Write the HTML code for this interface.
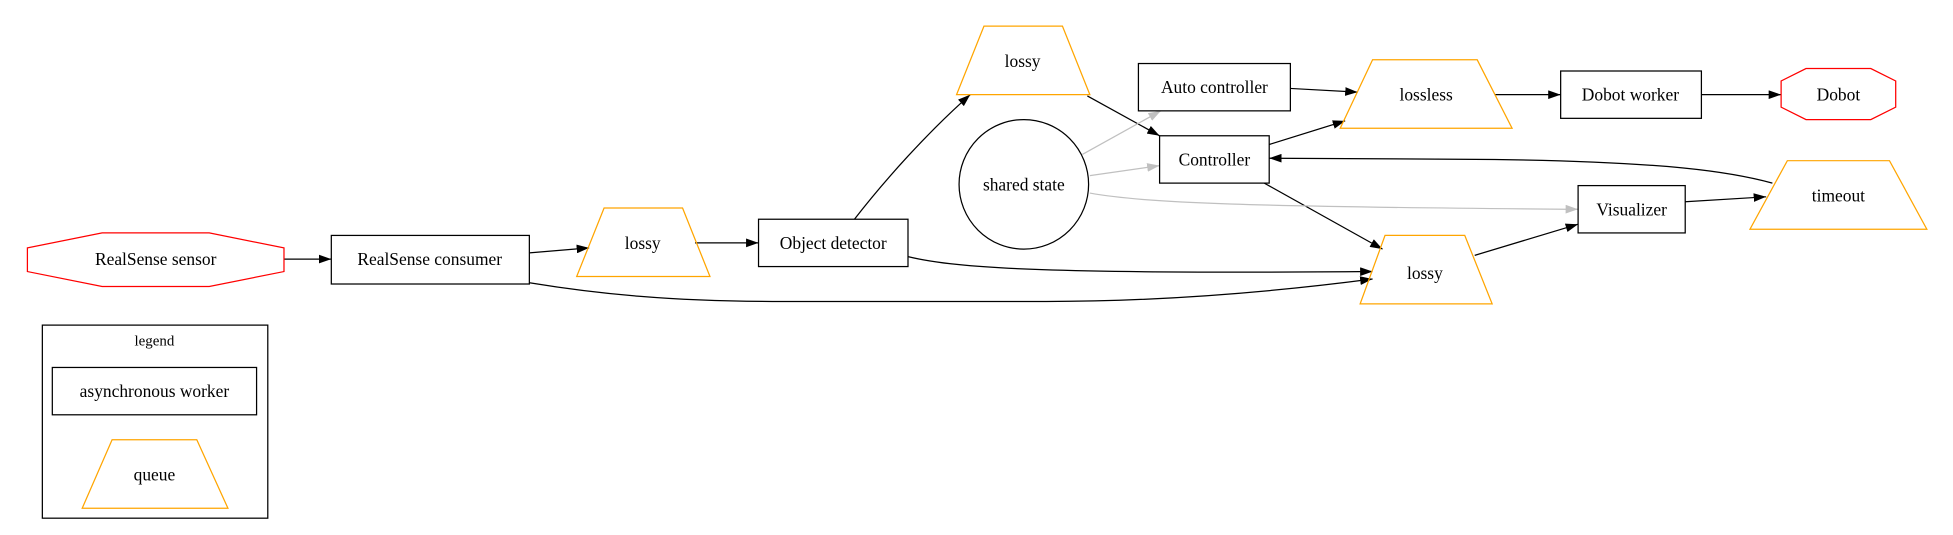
<!DOCTYPE html>
<html><head><meta charset="utf-8"><style>
html,body{margin:0;padding:0;background:#fff;width:1953px;height:535px;overflow:hidden}
svg text{font-family:"Liberation Serif",serif;font-size:14px;text-anchor:middle;dominant-baseline:central;fill:#000}
</style></head><body>
<svg width="1953" height="535" viewBox="0 0 1568 429.5" preserveAspectRatio="none" xmlns="http://www.w3.org/2000/svg">
<defs>
<marker id="a" viewBox="0 0 10 7" refX="10" refY="3.5" markerWidth="10" markerHeight="7" markerUnits="userSpaceOnUse" orient="auto"><path d="M0,0L10,3.5L0,7z" fill="#000"/></marker>
<marker id="g" viewBox="0 0 10 7" refX="10" refY="3.5" markerWidth="10" markerHeight="7" markerUnits="userSpaceOnUse" orient="auto"><path d="M0,0L10,3.5L0,7z" fill="#c0c0c0"/></marker>
</defs>
<g fill="none" stroke="#000" stroke-width="1">
<!-- edges -->
<path d="M228,208L266,208" marker-end="url(#a)"/>
<path d="M425,203L473,199" marker-end="url(#a)"/>
<path d="M558,195L609,195" marker-end="url(#a)"/>
<path d="M686,176C710,145 745,106 779,76" marker-end="url(#a)"/>
<path d="M873,77L931,109" marker-end="url(#a)"/>
<path d="M1036,71L1090,74" marker-end="url(#a)"/>
<path d="M1019,116L1080,97" marker-end="url(#a)"/>
<path d="M1200,76L1253,76" marker-end="url(#a)"/>
<path d="M1366,76L1430,76" marker-end="url(#a)"/>
<path d="M1015,147L1110,200" marker-end="url(#a)"/>
<path d="M729,206C770,216 850,220 1102,218" marker-end="url(#a)"/>
<path d="M425,227C480,236 540,242 620,242L840,242C920,242 1010,236 1102,224" marker-end="url(#a)"/>
<path d="M1184,205L1267,180" marker-end="url(#a)"/>
<path d="M1353,162L1418,158" marker-end="url(#a)"/>
<path d="M1423,147C1390,138 1340,130 1200,128C1120,127 1060,127 1019,127" marker-end="url(#a)"/>
<g stroke="#c0c0c0">
<path d="M869,124L932,89" marker-end="url(#g)"/>
<path d="M875,141L931,133" marker-end="url(#g)"/>
<path d="M875,155C920,163 1000,166 1267,168" marker-end="url(#g)"/>
</g>
<!-- nodes -->
<polygon points="82,187 168,187 228,199 228,218 168,230 82,230 22,218 22,199" stroke="red"/>
<rect x="266" y="189" width="159" height="39"/>
<polygon points="485,167 548,167 570,222 463,222" stroke="orange"/>
<rect x="609" y="176" width="120" height="38"/>
<polygon points="790,21 853,21 875,76 768,76" stroke="orange"/>
<circle cx="822" cy="148" r="52"/>
<rect x="914" y="51" width="122" height="38"/>
<rect x="931" y="109" width="88" height="38"/>
<polygon points="1102,48 1186,48 1214,103 1076,103" stroke="orange"/>
<rect x="1253" y="57" width="113" height="38"/>
<polygon points="1450,55 1502,55 1522,65 1522,86 1502,96 1450,96 1430,86 1430,65" stroke="red"/>
<polygon points="1435,129 1517,129 1547,184 1405,184" stroke="orange"/>
<rect x="1267" y="149" width="86" height="38"/>
<polygon points="1112,189 1176,189 1198,244 1092,244" stroke="orange"/>
<rect x="34" y="261" width="181" height="155"/>
<rect x="42" y="295" width="164" height="38"/>
<polygon points="90,353 158,353 183,408 66,408" stroke="orange"/>
</g>
<text x="125" y="208">RealSense sensor</text>
<text x="345" y="208">RealSense consumer</text>
<text x="516" y="195">lossy</text>
<text x="669" y="195">Object detector</text>
<text x="821" y="49">lossy</text>
<text x="822" y="148">shared state</text>
<text x="975" y="70">Auto controller</text>
<text x="975" y="128">Controller</text>
<text x="1145" y="76">lossless</text>
<text x="1309" y="76">Dobot worker</text>
<text x="1476" y="76">Dobot</text>
<text x="1476" y="157">timeout</text>
<text x="1310" y="168">Visualizer</text>
<text x="1144" y="219">lossy</text>
<text x="124" y="274" style="font-size:12px">legend</text>
<text x="124" y="314">asynchronous worker</text>
<text x="124" y="381">queue</text>
</svg>
</body></html>
